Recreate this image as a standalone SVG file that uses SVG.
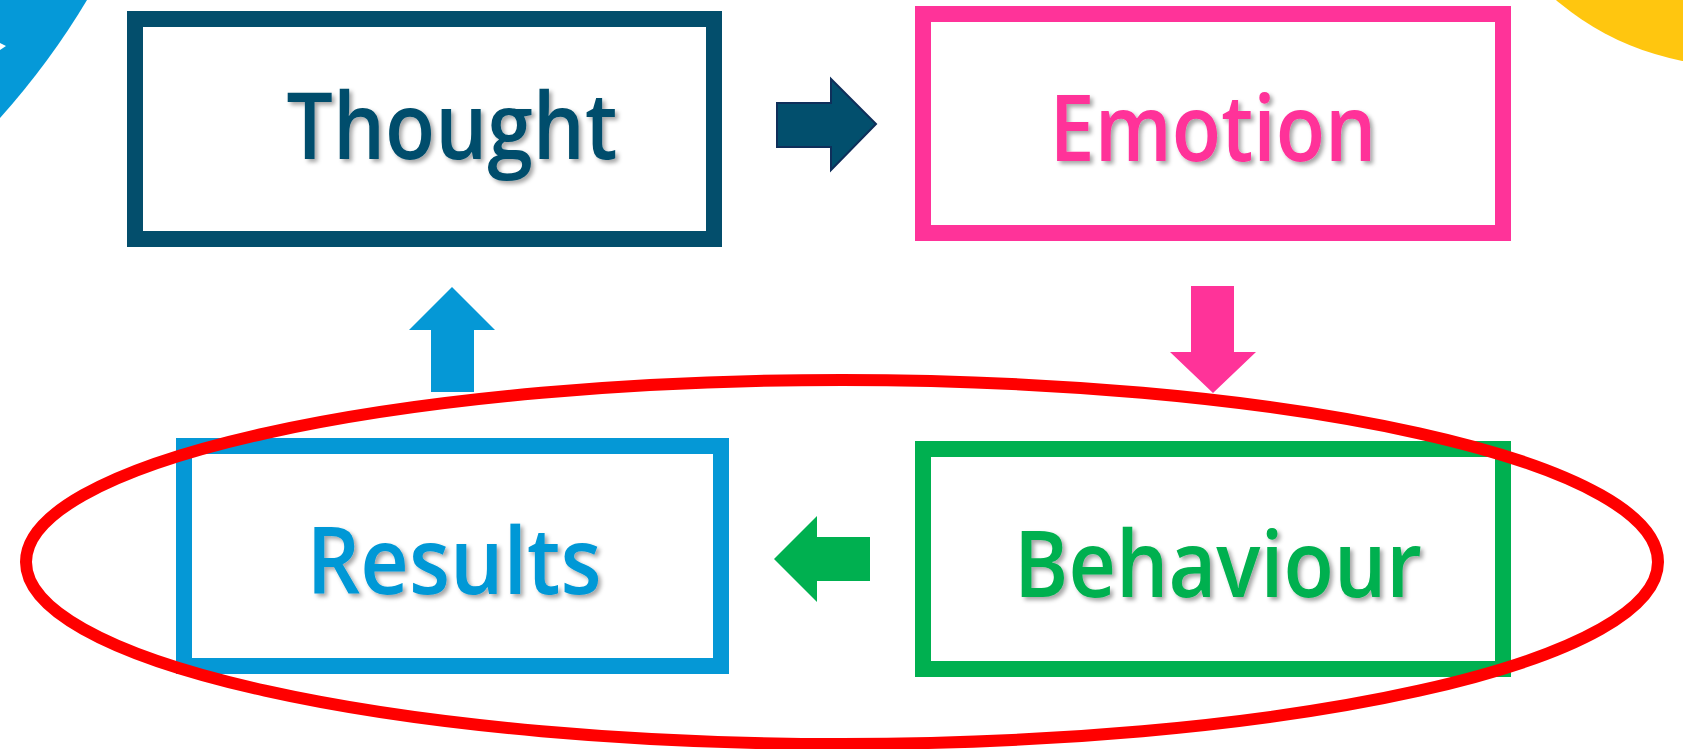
<svg xmlns="http://www.w3.org/2000/svg" width="1683" height="749" viewBox="0 0 1683 749">
  <defs>
    <filter id="sh" x="-10%" y="-20%" width="130%" height="150%">
      <feDropShadow dx="3" dy="3" stdDeviation="2" flood-color="#000" flood-opacity="0.35"/>
    </filter>
  </defs>
  <style>
    .box { fill: none; stroke-width: 16; }
    .lbl { font-family: "Open Sans", "Noto Sans", sans-serif; font-weight: 600; font-size: 92px; text-anchor: middle; filter: url(#sh); }
  </style>
  <rect width="1683" height="749" fill="#fff"/>
  <g id="decor">
    <path d="M0,0 L87,0 Q50,62 0,118 Z" fill="#0599D8"/>
    <path d="M0,43 L6,46 L0,50 Z" fill="#fff"/>
    <circle cx="1735" cy="-210" r="276" fill="#FFC60F"/>
  </g>
  <g id="thought">
    <rect class="box" x="135" y="19" width="579" height="220" stroke="#034E6C"/>
    <text class="lbl" x="452" y="159" fill="#034E6C" textLength="331" lengthAdjust="spacingAndGlyphs">Thought</text>
  </g>
  <g id="emotion">
    <rect class="box" x="923" y="14" width="580" height="219" stroke="#FF3399"/>
    <text class="lbl" x="1213" y="161" fill="#FF3399" textLength="327" lengthAdjust="spacingAndGlyphs">Emotion</text>
  </g>
  <g id="results">
    <rect class="box" x="184" y="446" width="537" height="220" stroke="#0598D6"/>
    <text class="lbl" x="454" y="594" fill="#0598D6" textLength="295" lengthAdjust="spacingAndGlyphs">Results</text>
  </g>
  <g id="behaviour">
    <rect class="box" x="923" y="449" width="580" height="220" stroke="#00B050"/>
    <text class="lbl" x="1218" y="597" fill="#00B050" textLength="408" lengthAdjust="spacingAndGlyphs">Behaviour</text>
  </g>
  <g id="connectors">
    <polygon points="777,103 831,103 831,79 876,124 831,170 831,147 777,147" fill="#024F6D" stroke="#0F2F5A" stroke-width="2"/>
    <polygon points="1191,286 1234,286 1234,352 1256,352 1213,393 1170,352 1191,352" fill="#FF3399"/>
    <polygon points="870,537 817,537 817,516 774,559 817,602 817,581 870,581" fill="#00B050"/>
    <polygon points="431,392 474,392 474,330 495,330 452,287 409,330 431,330" fill="#0598D6"/>
  </g>
  <g id="highlight">
    <ellipse cx="842" cy="562" rx="816" ry="182" fill="none" stroke="#FF0000" stroke-width="12"/>
  </g>
</svg>
